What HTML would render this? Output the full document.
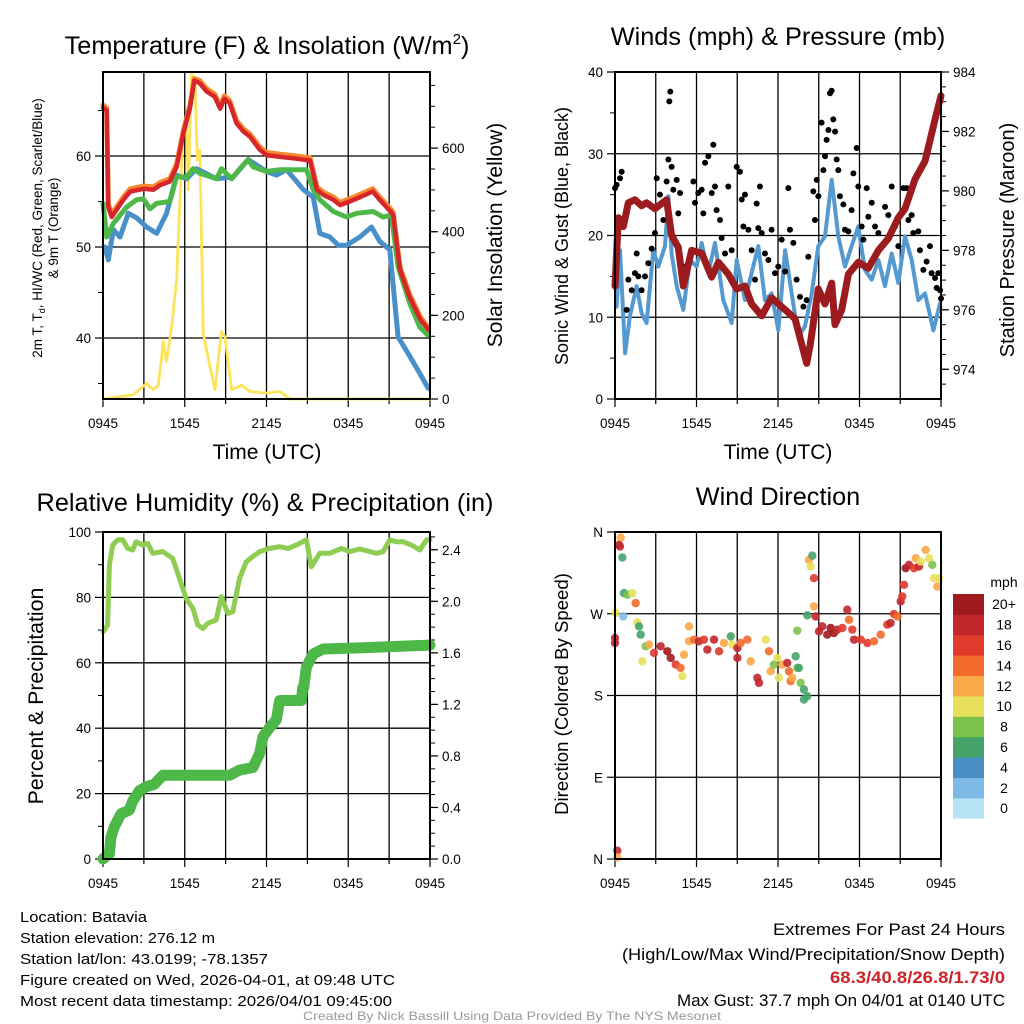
<!DOCTYPE html>
<html><head><meta charset="utf-8"><title>Mesonet Station Meteogram</title>
<style>
html,body{margin:0;padding:0;background:#fff;}
svg{display:block;font-family:"Liberation Sans",sans-serif;}
</style></head>
<body>
<svg id="chart" width="1024" height="1024" viewBox="0 0 1024 1024" xmlns="http://www.w3.org/2000/svg">
<rect width="1024" height="1024" fill="#fff"/>
<g id="layer"></g>
<!-- titles -->
<text x="267" y="54" font-size="25.3" text-anchor="middle">Temperature (F) &amp; Insolation (W/m<tspan font-size="15" dy="-10">2</tspan><tspan dy="10">)</tspan></text>
<text x="778" y="45" font-size="25.3" text-anchor="middle">Winds (mph) &amp; Pressure (mb)</text>
<text x="265" y="511" font-size="25.3" text-anchor="middle">Relative Humidity (%) &amp; Precipitation (in)</text>
<text x="778" y="505" font-size="25.3" text-anchor="middle">Wind Direction</text>
<text x="267" y="459" font-size="21" text-anchor="middle">Time (UTC)</text>
<text x="778" y="459" font-size="21" text-anchor="middle">Time (UTC)</text>
<!-- y-axis titles -->
<text transform="translate(42,228) rotate(-90)" font-size="13.5" text-anchor="middle">2m T, T<tspan font-size="9" dy="3">d</tspan><tspan dy="-3">, HI/WC (Red, Green, Scarlet/Blue)</tspan></text>
<text transform="translate(58,228) rotate(-90)" font-size="13.5" text-anchor="middle">&amp; 9m T (Orange)</text>
<text transform="translate(502,235) rotate(-90)" font-size="21" text-anchor="middle">Solar Insolation (Yellow)</text>
<text transform="translate(568,236) rotate(-90)" font-size="18" text-anchor="middle">Sonic Wind &amp; Gust (Blue, Black)</text>
<text transform="translate(1014,240) rotate(-90)" font-size="20" text-anchor="middle">Station Pressure (Maroon)</text>
<text transform="translate(43,696) rotate(-90)" font-size="21.3" text-anchor="middle">Percent &amp; Precipitation</text>
<text transform="translate(568,694) rotate(-90)" font-size="18.6" text-anchor="middle">Direction (Colored By Speed)</text>
<!-- footer text -->
<g font-size="15">
<text x="20" y="922" textLength="127" lengthAdjust="spacingAndGlyphs">Location: Batavia</text>
<text x="20" y="943" textLength="195" lengthAdjust="spacingAndGlyphs">Station elevation: 276.12 m</text>
<text x="20" y="964" textLength="248" lengthAdjust="spacingAndGlyphs">Station lat/lon: 43.0199; -78.1357</text>
<text x="20" y="985" textLength="375" lengthAdjust="spacingAndGlyphs">Figure created on Wed, 2026-04-01, at 09:48 UTC</text>
<text x="20" y="1006" textLength="372" lengthAdjust="spacingAndGlyphs">Most recent data timestamp: 2026/04/01 09:45:00</text>
</g>
<g font-size="16.5">
<text x="773" y="935" textLength="232" lengthAdjust="spacingAndGlyphs">Extremes For Past 24 Hours</text>
<text x="622" y="960" textLength="383" lengthAdjust="spacingAndGlyphs">(High/Low/Max Wind/Precipitation/Snow Depth)</text>
<text x="830" y="983" textLength="175" lengthAdjust="spacingAndGlyphs" fill="#cc2229" font-weight="bold">68.3/40.8/26.8/1.73/0</text>
<text x="677" y="1006" textLength="328" lengthAdjust="spacingAndGlyphs">Max Gust: 37.7 mph On 04/01 at 0140 UTC</text>
</g>
<text x="512" y="1020" font-size="12" fill="#999" text-anchor="middle" textLength="418" lengthAdjust="spacingAndGlyphs">Created By Nick Bassill Using Data Provided By The NYS Mesonet</text>
</svg>
<script>
// ---- data (hours since 0945 UTC) ----
const xTickLabels = ["0945","1545","2145","0345","0945"];
const tempTimes = [0,0.27,0.39,0.64,1.5,2.0,3.0,3.7,4.2,4.9,5.4,5.9,6.4,6.7,7.1,7.6,8.2,8.6,8.9,9.3,9.8,10.3,10.8,11.5,12.0,13.0,14.2,15.2,15.7,16.2,16.9,17.4,18.1,18.9,19.8,20.3,21.1,21.3,21.8,22.5,23.3,23.9];
const tempRed = [65.3,65.0,54.4,53.3,55.2,56.1,56.4,56.3,56.8,57.2,58.8,62.5,65.4,68.3,68.0,67.1,66.5,65.2,66.3,65.8,63.6,62.7,62.1,60.7,60.1,59.9,59.7,59.5,56.3,55.7,55.2,54.6,55.0,55.5,56.1,55.2,53.9,53.5,47.5,44.5,42.0,40.9];
const tempOrange = [65.6,65.3,54.7,53.6,55.5,56.4,56.7,56.6,57.1,57.5,59.1,62.8,65.7,68.5,68.3,67.4,66.8,65.5,66.6,66.1,63.9,63.0,62.4,61.0,60.4,60.2,60.0,59.8,56.6,56.0,55.5,54.9,55.3,55.8,56.4,55.5,54.2,53.8,47.8,44.8,42.3,41.1];
const dewTimes = [0,0.27,0.76,1.74,2.47,2.96,3.45,3.94,4.91,5.4,6.13,6.63,7.11,8.34,8.7,9.44,10.05,10.66,11.03,12.0,12.98,13.96,14.94,15.43,15.92,16.9,17.87,18.61,19.83,20.56,21.17,21.66,22.52,23.25,23.86];
const dewGreen = [54.8,51.1,52.6,54.4,55.2,55.3,54.2,54.8,55.0,57.7,57.7,58.6,58.1,57.5,58.6,57.5,58.6,59.6,58.8,58.3,58.5,58.5,58.5,56.3,55.2,53.9,53.3,53.7,53.9,53.3,53.5,47.8,43.8,41.2,40.3];
const hiTimes = [0.15,0.39,0.76,1.25,1.86,2.47,3.2,3.94,4.67,5.4,6.13,6.87,8.34,9.56,10.66,12.0,12.74,13.47,14.21,14.7,15.43,15.92,16.65,17.26,17.87,18.85,19.71,20.32,21.05,21.66,22.52,23.25,23.86];
const hiBlue = [50.0,48.6,51.9,51.1,53.7,53.2,52.2,51.5,53.7,57.9,57.5,58.6,57.5,57.7,59.6,58.3,57.9,58.5,57.2,56.3,55.5,51.5,51.1,50.2,50.2,51.1,52.2,50.6,49.7,40.1,38.0,36.1,34.5];
const solarTimes = [0,2.22,3.2,3.69,4.06,4.43,4.67,5.04,5.4,5.65,5.89,6.13,6.26,6.5,6.75,6.92,7.11,7.36,7.85,8.22,8.7,8.95,9.44,10.17,10.78,12.0,12.98,13.72,24];
const solarValues = [0,10,37,22,33,137,90,173,284,476,651,675,500,778,763,571,595,157,77,22,161,149,22,33,18,14,18,0,0];

const windTimes = [0,0.12,0.37,0.74,1.1,1.59,1.96,2.33,2.82,3.19,3.68,3.93,4.17,4.54,5.03,5.52,6.01,6.38,6.87,7.36,7.97,8.59,8.96,9.57,10.06,10.55,11.04,11.53,12.02,12.52,13.01,13.5,13.99,14.48,14.97,15.46,15.95,16.44,16.93,17.42,17.91,18.4,18.9,19.39,19.88,20.37,20.86,21.35,21.84,22.33,22.82,23.44,23.93];
const windSpeed = [16.2,11.3,18.2,5.6,10.1,13.8,10.5,9.3,18.2,16.2,18.7,24.8,17.8,13.8,10.9,17.0,16.2,19.1,15.4,19.1,12.1,9.3,17.0,12.1,15.4,18.7,12.1,12.9,8.4,18.2,12.9,7.6,8.9,12.9,18.7,19.9,26.8,19.9,16.2,18.7,21.1,15.8,14.6,17.0,13.8,17.8,14.2,19.9,17.0,12.1,12.9,8.4,11.7];
const gustTimes = [0,0.12,0.37,0.49,0.86,0.98,1.23,1.47,1.6,1.72,1.96,2.21,2.45,2.7,2.94,3.07,3.31,3.56,3.8,3.93,4.0,4.07,4.17,4.29,4.54,4.66,4.79,5.15,5.77,5.89,6.13,6.38,6.5,6.63,6.87,7.12,7.24,7.36,7.48,7.73,7.85,8.1,8.34,8.59,8.96,9.2,9.33,9.57,9.45,9.82,10.06,10.31,10.43,10.55,10.67,10.8,11.04,11.29,11.53,11.78,12.02,12.27,12.52,12.76,12.88,13.13,13.37,13.62,13.87,14.11,14.23,14.6,14.72,14.85,14.97,15.21,15.34,15.46,15.58,15.71,15.83,15.95,16.07,16.2,16.32,16.44,16.56,16.81,16.93,17.18,17.42,17.55,17.79,17.91,18.16,18.28,18.53,18.65,18.9,19.14,19.39,19.88,20.12,20.37,20.61,20.86,21.23,21.47,21.6,21.84,21.96,22.33,22.45,22.7,22.94,23.19,23.31,23.56,23.68,23.8,23.93,24.0];
const gustSpeed = [25.8,26.2,27.0,27.8,10.9,14.6,13.3,15.4,17.8,15.0,13.3,15.0,16.6,18.4,20.3,27.0,25.0,21.9,26.6,29.3,36.4,37.6,28.4,25.6,26.8,22.7,25.2,16.2,26.6,24.0,25.2,25.6,22.7,28.9,29.7,25.2,31.1,26.0,23.1,21.9,19.7,17.8,26.0,18.2,28.4,27.8,24.4,25.0,21.1,20.7,18.2,14.6,23.9,20.9,26.0,20.3,17.8,17.0,20.7,15.4,16.2,19.5,15.6,25.8,20.7,19.1,14.6,12.5,11.3,12.1,17.4,25.4,21.9,26.8,24.8,33.8,28.0,29.7,31.7,32.9,37.4,37.7,34.2,32.7,29.3,28.0,24.8,23.8,20.7,20.5,23.1,27.6,30.7,26.0,21.1,19.5,25.8,22.3,24.0,21.1,20.3,23.5,22.5,26.0,21.1,18.7,25.8,25.8,21.9,22.5,20.3,20.5,18.2,15.8,16.8,18.7,15.4,14.8,13.6,15.4,13.3,12.3];
const presTimes = [0,0.25,0.61,0.98,1.47,1.96,2.33,2.94,3.8,4.17,4.66,5.03,5.64,6.38,7.12,7.61,8.34,8.96,9.57,10.06,10.8,11.53,12.52,13.25,14.11,14.36,14.97,15.46,15.95,16.2,16.69,17.18,17.91,18.65,19.39,20.12,20.86,21.35,22.09,22.82,23.56,24.0];
const presValues = [976.8,979.1,978.8,979.6,979.7,979.5,979.6,979.4,979.7,978.5,978.1,976.8,978.0,977.9,977.1,977.6,977.2,976.7,976.8,976.2,975.8,976.4,976.0,975.7,974.2,974.8,976.7,976.2,976.9,975.5,976.0,977.2,977.6,977.4,978.0,978.4,979.1,979.4,980.4,981.0,982.4,983.2];

const rhTimes = [0.02,0.34,0.47,0.71,1.08,1.45,1.81,2.18,2.43,2.92,3.28,3.65,4.39,5.12,5.61,6.1,6.59,6.96,7.33,7.7,8.31,8.68,9.17,9.53,10.02,10.51,11.0,11.5,12.23,12.97,13.58,14.19,14.93,15.29,15.91,16.64,17.5,18.11,18.85,19.58,20.07,20.56,21.05,21.54,22.03,22.65,23.26,23.75,24.0];
const rhValues = [69.5,71.6,89.9,96,97.6,97.6,95,94.5,97,96,96.5,93.5,94,91.9,85.8,79.7,76.7,71.6,70.5,72.1,73.1,80.2,75.1,75.6,85.8,90.9,92.5,94,95,95.5,95,96,97.6,89.4,93.5,93.5,95,94,94.8,94,93.5,94,97.6,97,97,96,94.5,97.6,97.6];
const precipTimes = [0,0.1,0.47,0.59,0.83,1.32,1.94,2.18,2.67,3.16,3.77,4.39,5.61,9.29,10.02,11.0,11.5,11.74,12.23,12.72,12.97,14.56,14.66,14.73,14.93,15.42,16.15,19.09,24.0];
const precipValues = [0,0.01,0.04,0.17,0.25,0.35,0.38,0.45,0.53,0.56,0.58,0.65,0.65,0.65,0.69,0.71,0.82,0.95,1.02,1.08,1.23,1.23,1.33,1.33,1.49,1.59,1.63,1.64,1.66];

const dirTimes = [0.42,0.29,0.37,0.54,0.66,0.91,1.28,1.52,0.05,0.61,0,0,1.64,1.77,1.89,2.26,2.5,2.01,2.87,3.36,3.85,4.1,4.47,4.83,4.96,5.08,5.45,5.45,5.82,6.18,6.55,6.8,7.29,7.66,8.02,8.52,8.64,9.01,9.01,9.25,9.74,9.99,10.48,10.6,11.09,11.34,11.46,11.7,11.95,12.07,12.31,12.68,12.81,12.93,13.05,13.3,13.42,13.54,13.67,13.91,13.91,14.16,14.28,14.4,14.53,14.65,14.65,14.16,13.42,14.77,15.02,15.26,15.63,15.88,16.12,16.37,16.74,17.1,17.23,17.47,17.6,18.09,18.58,19.07,19.56,20.05,20.29,20.54,20.79,21.03,21.15,21.28,21.4,21.64,22.01,22.14,22.38,22.5,22.87,23.12,23.36,23.48,23.85,23.73,0.17,0.17];
const dirValues = [353.8,345.8,344,331.9,292.7,290.9,292.7,281.7,270.8,267.1,243.3,237.8,260.5,256.1,247,234.2,236,217.7,226.9,234.2,228.7,221.4,214.1,210.4,201.2,225,256.1,239.7,241.5,239.7,241.5,230.5,241.5,228.7,237.8,245.1,236,232.3,221.4,237.8,241.5,217.7,199.4,193.9,241.5,228.7,206.7,214,221.4,199.4,214,215.9,206.7,195.8,199.4,223.2,210.4,210.4,193.9,186.6,175.6,179.2,329.3,322,334,309.2,278.1,268.2,251.4,267,250.6,256.1,247,254.3,248.8,252.5,254.3,274.4,263.4,252.5,241.5,241.5,237.8,239.7,247,258,259.8,269.7,267,283.6,289.1,301.9,320.2,323.8,320.2,331.1,322,327.5,340.3,331.1,323.8,309.2,309.2,300,9.1,1.8];
const dirSpeeds = [12,18,19,7,6,8,10,15,10,3,18,18,10,7,7,9,13,10,16,18,20,20,17,15,10,12,12,12,15,18,17,18,19,16,12,7,10,19,19,15,14,12,18,19,10,14,12,9,10,10,13,18,15,15,12,7,8,7,8,7,6,7,12,10,6,17,13,6,8,18,18,19,20,20,20,18,17,18,15,17,19,17,17,15,15,17,18,17,15,18,17,17,20,19,17,13,18,10,13,10,8,10,10,13,18,13];
const cbarLabels = ["0","2","4","6","8","10","12","14","16","18","20+"];
const cbarColors = ["#b8e3f7","#7dbbe6","#4a8fc6","#45a36b","#7bc24b","#e8e05b","#f9a948","#f26a2b","#e03a2c","#c1272d","#9e1a1d"];

// ---- helpers ----
const NS = "http://www.w3.org/2000/svg";
const layer = document.getElementById("layer");
function mk(tag, attrs, parent){
  const e = document.createElementNS(NS, tag);
  for (const k in attrs) e.setAttribute(k, attrs[k]);
  (parent||layer).appendChild(e);
  return e;
}
function lin(d0,d1,r0,r1){ return v => r0 + (v-d0)*(r1-r0)/(d1-d0); }

function panel(p){
  const g = mk("g", {});
  
  
  const xs = lin(0,24,p.x0,p.x1);
  for (let h=3; h<24; h+=3){
    const l = mk("line",{x1:xs(h),x2:xs(h),y1:p.y0,y2:p.y1,stroke:"#000","stroke-width":1.3},g);
    
    
  }
  for (let h=0; h<=24; h+=3){
    const len = (h%6===0)?8:5;
    const t = mk("line",{x1:xs(h),x2:xs(h),y1:p.y1,y2:p.y1+len,stroke:"#000","stroke-width":1.2},g);
    
    
  }
  xTickLabels.forEach((lab,i)=>{
    const t = mk("text",{x:xs(i*6),y:p.y1+29,"font-size":13.5,"text-anchor":"middle"},g);
    t.textContent = lab;
    
    
  });
  const ys = lin(p.lmin,p.lmax,p.y1,p.y0);
  p.hgrid.forEach(v=>{
    const l = mk("line",{x1:p.x0,x2:p.x1,y1:ys(v),y2:ys(v),stroke:"#000","stroke-width":1.3},g);
    
    
  });
  p.lmajor.forEach((v,i)=>{
    const t = mk("line",{x1:p.x0-8,x2:p.x0,y1:ys(v),y2:ys(v),stroke:"#000","stroke-width":1.2},g);
    
    
    const tx = mk("text",{x:p.x0-12,y:ys(v)+5,"font-size":13.5,"text-anchor":"end"},g);
    tx.textContent = p.llabels[i];
    
    
  });
  (p.lminor||[]).forEach(v=>{
    const t = mk("line",{x1:p.x0-5,x2:p.x0,y1:ys(v),y2:ys(v),stroke:"#000","stroke-width":1},g);
    
    
  });
  let rs = null;
  if (p.rmin!==undefined){
    rs = lin(p.rmin,p.rmax,p.y1,p.y0);
    p.rmajor.forEach((v,i)=>{
      const t = mk("line",{x1:p.x1,x2:p.x1+8,y1:rs(v),y2:rs(v),stroke:"#000","stroke-width":1.2},g);
      
      
      const tx = mk("text",{x:p.x1+12,y:rs(v)+5,"font-size":13.5,"text-anchor":"start"},g);
      tx.textContent = p.rlabels[i];
      
      
    });
    (p.rminor||[]).forEach(v=>{
      const t = mk("line",{x1:p.x1,x2:p.x1+5,y1:rs(v),y2:rs(v),stroke:"#000","stroke-width":1},g);
      
      
    });
  }
  const series = mk("g",{},g);
  
  
  const frame = mk("rect",{x:p.x0,y:p.y0,width:p.x1-p.x0,height:p.y1-p.y0,fill:"none",stroke:"#000","stroke-width":2},g);
  
  
  return {xs, ys, rs, series};
}
function range(a,b,s){ const r=[]; for(let v=a; v<=b+1e-9; v+=s) r.push(+v.toFixed(3)); return r; }
function line(par, times, vals, xs, ys, color, w, name){
  const d = times.map((t,i)=>(i?"L":"M")+xs(t).toFixed(1)+","+ys(vals[i]).toFixed(1)).join("");
  const p = mk("path",{d:d,fill:"none",stroke:color,"stroke-width":w,"stroke-linejoin":"round","stroke-linecap":"round"},par);
  
  
}

// ---- Panel 1: temperature ----
const P1 = panel({name:"temperature-panel",x0:103,x1:430,y0:72,y1:399,lmin:33.3,lmax:69.23,
  hgrid:[40,50,60],lmajor:[40,50,60],llabels:["40","50","60"],lminor:[35,45,55,65],
  rmin:0,rmax:782,rmajor:[0,200,400,600],rlabels:["0","200","400","600"],rminor:range(50,750,50)});
line(P1.series, solarTimes, solarValues, P1.xs, P1.rs, "#fde35a", 2.8, "solar-insolation-line");
line(P1.series, hiTimes, hiBlue, P1.xs, P1.ys, "#4a90c8", 5, "heat-index-line");
line(P1.series, dewTimes, dewGreen, P1.xs, P1.ys, "#4db848", 5, "dewpoint-line");
line(P1.series, tempTimes, tempOrange, P1.xs, P1.ys, "#f7862c", 5, "9m-temperature-line");
line(P1.series, tempTimes, tempRed, P1.xs, P1.ys, "#d7262b", 4.5, "2m-temperature-line");

// ---- Panel 2: winds ----
const P2 = panel({name:"winds-panel",x0:615,x1:941,y0:72,y1:399,lmin:0,lmax:40,
  hgrid:[10,20,30],lmajor:[0,10,20,30,40],llabels:["0","10","20","30","40"],lminor:[5,15,25,35],
  rmin:973,rmax:984,rmajor:[974,976,978,980,982,984],rlabels:["974","976","978","980","982","984"],rminor:range(973.5,983.5,0.5)});
line(P2.series, windTimes, windSpeed, P2.xs, P2.ys, "#5599d1", 4, "sonic-wind-line");
gustTimes.forEach((t,i)=>{
  const c = mk("circle",{cx:P2.xs(t),cy:P2.ys(gustSpeed[i]),r:3,fill:"#000"},P2.series);
  
  
});
line(P2.series, presTimes, presValues, P2.xs, P2.rs, "#9b1b1e", 7, "pressure-line");

// ---- Panel 3: humidity ----
const P3 = panel({name:"humidity-panel",x0:103,x1:430,y0:532,y1:859,lmin:0,lmax:100,
  hgrid:[20,40,60,80],lmajor:[0,20,40,60,80,100],llabels:["0","20","40","60","80","100"],lminor:[10,30,50,70,90],
  rmin:0,rmax:2.538,rmajor:[0,0.4,0.8,1.2,1.6,2.0,2.4],rlabels:["0.0","0.4","0.8","1.2","1.6","2.0","2.4"],rminor:range(0.1,2.5,0.1)});
line(P3.series, rhTimes, rhValues, P3.xs, P3.ys, "#8fcc52", 5, "relative-humidity-line");
line(P3.series, precipTimes, precipValues, P3.xs, P3.rs, "#4db848", 11, "precipitation-line");

// ---- Panel 4: wind direction ----
const P4 = panel({name:"wind-direction-panel",x0:615,x1:941,y0:532,y1:859,lmin:0,lmax:360,
  hgrid:[90,180,270],lmajor:[0,90,180,270,360],llabels:["N","E","S","W","N"],lminor:[]});
function speedColor(s){ let i = Math.floor(s/2); if(i>10) i=10; if(i<0) i=0; return cbarColors[i]; }
dirTimes.forEach((t,i)=>{
  const c = mk("circle",{cx:P4.xs(t),cy:P4.ys(dirValues[i]),r:4.2,fill:speedColor(dirSpeeds[i]),"fill-opacity":0.9},P4.series);
  
  
});
const cb = mk("g",{});


const cbTop = 594, cbH = 20.4;
cbarColors.forEach((col,i)=>{
  const y = cbTop + (10-i)*cbH;
  const r = mk("rect",{x:953,y:y,width:31,height:cbH+0.4,fill:col},cb);
  
  
  const t = mk("text",{x:1004,y:y+cbH/2+5,"font-size":14,"text-anchor":"middle"},cb);
  t.textContent = cbarLabels[i];
  
  
});
const cbt = mk("text",{x:1004,y:587,"font-size":14,"text-anchor":"middle"},cb);
cbt.textContent = "mph";


</script>
</body></html>
